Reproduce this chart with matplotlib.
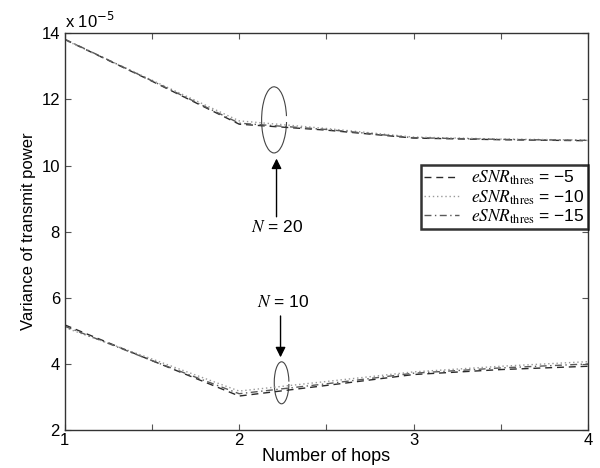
import matplotlib
matplotlib.use("Agg")
import matplotlib.pyplot as plt
from matplotlib.patches import Arc

plt.rcParams["font.family"] = ["Liberation Sans", "DejaVu Sans"]
plt.rcParams["mathtext.fontset"] = "stix"

hops = [1, 1.5, 2, 2.5, 3, 3.5, 4]

# N = 20 (values in units of 1e-5)
n20_m5 = [13.81, 12.55, 11.25, 11.07, 10.83, 10.78, 10.75]
n20_m10 = [13.80, 12.58, 11.35, 11.12, 10.86, 10.80, 10.77]
n20_m15 = [13.82, 12.56, 11.28, 11.09, 10.84, 10.79, 10.76]

# N = 10
n10_m5 = [5.18, 4.10, 3.03, 3.35, 3.68, 3.83, 3.93]
n10_m10 = [5.10, 4.15, 3.18, 3.47, 3.76, 3.93, 4.07]
n10_m15 = [5.14, 4.10, 3.10, 3.40, 3.72, 3.88, 4.00]

thresholds = ["-5", "-10", "-15"]
styles = [((0, (5, 3.5)), "#2a2a2a"),
          ((0, (1, 2)), "#9a9a9a"),
          ((0, (5, 2.5, 1, 2.5)), "#5a5a5a")]

fig = plt.figure(figsize=(6.0, 4.68), dpi=100)
ax = fig.add_axes([0.108, 0.081, 0.872, 0.848])

for (ls, col), thr, y20, y10 in zip(styles, thresholds,
                                    [n20_m5, n20_m10, n20_m15],
                                    [n10_m5, n10_m10, n10_m15]):
    lab = r"$\mathit{eSNR}_{\mathrm{thres}}$ = " + thr.replace("-", "\u2212")
    ax.plot(hops, y20, ls=ls, color=col, lw=1.0, label=lab)
    ax.plot(hops, y10, ls=ls, color=col, lw=1.0)

ax.set_xlim(1, 4)
ax.set_ylim(2, 14)
ax.set_xticks([1, 2, 3, 4])
ax.set_xticks([1.5, 2.5, 3.5], minor=True)
ax.set_yticks([2, 4, 6, 8, 10, 12, 14])
ax.tick_params(which="both", direction="in", top=True, right=True,
               length=4, width=0.8, color="#555555", labelsize=12)
ax.tick_params(axis="x", pad=2)
for sp in ax.spines.values():
    sp.set_color("#333333")
    sp.set_linewidth(1.0)

ax.set_xlabel("Number of hops", fontsize=13, labelpad=0)
ax.set_ylabel("Variance of transmit power", fontsize=12, labelpad=4)
ax.text(0.0, 1.006, r"x 10$^{-5}$", transform=ax.transAxes,
        fontsize=12, ha="left", va="bottom",
        math_fontfamily="dejavusans")

# group markers (ellipses) and arrows
ax.add_patch(Arc((2.20, 11.38), 0.143, 2.0, theta1=58, theta2=318,
                 color="#444444", lw=0.8))
ax.add_patch(Arc((2.243, 3.43), 0.084, 1.27, theta1=40, theta2=320,
                 color="#444444", lw=0.8))

ax.annotate("", xy=(2.214, 10.21), xytext=(2.214, 8.45),
            arrowprops=dict(arrowstyle="-|>", color="black", lw=1.0,
                            mutation_scale=15, shrinkA=0, shrinkB=0))
ax.text(2.216, 8.14, r"$\mathit{N}$ = 20", fontsize=12.5, ha="center", va="center")
ax.annotate("", xy=(2.237, 4.20), xytext=(2.237, 5.45),
            arrowprops=dict(arrowstyle="-|>", color="black", lw=1.0,
                            mutation_scale=15, shrinkA=0, shrinkB=0))
ax.text(2.25, 5.88, r"$\mathit{N}$ = 10", fontsize=12.5, ha="center", va="center")

leg = ax.legend(loc="upper right", bbox_to_anchor=(1.0, 0.667), borderaxespad=0,
                fancybox=False, fontsize=12.5, handlelength=2.0,
                labelspacing=0.05, borderpad=0.2, handletextpad=0.7)
leg.get_frame().set_edgecolor("black")
leg.get_frame().set_linewidth(1.8)

fig.savefig("out.png", dpi=100)
